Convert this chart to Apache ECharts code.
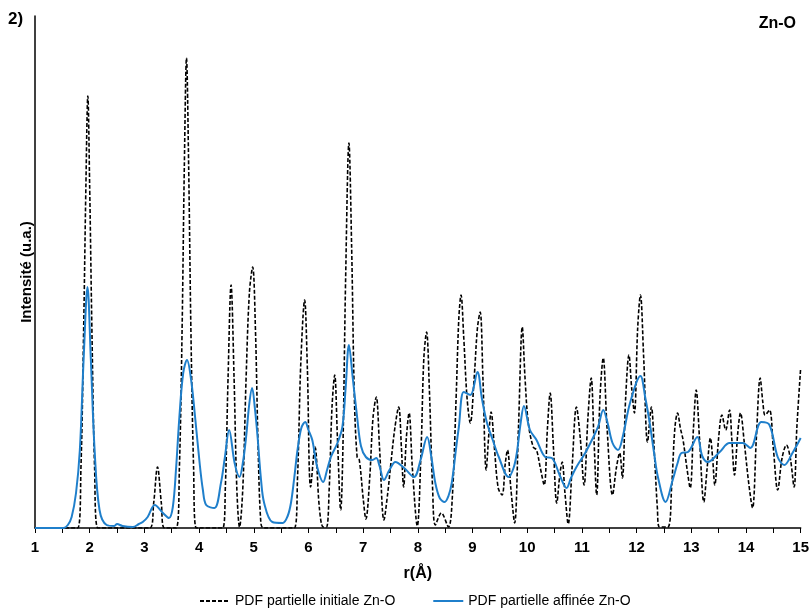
<!DOCTYPE html>
<html>
<head>
<meta charset="utf-8">
<script src="https://cdn.jsdelivr.net/npm/echarts@6/dist/echarts.min.js"></script>
<style>html,body{margin:0;padding:0;background:#fff}#c{width:812px;height:613px}</style>
</head>
<body>
<div id="c"></div>
<script>
const xTicks = [1,2,3,4,5,6,7,8,9,10,11,12,13,14,15];

const initialZnO = [
[1.0,0],[1.78,0],[1.84,60],[1.89,200],[1.93,340],[1.966,432],[2.00,340],[2.04,200],[2.09,60],[2.15,0],
[3.10,0],[3.17,25],[3.24,61],[3.31,25],[3.37,0],
[3.58,0],[3.64,60],[3.69,200],[3.73,360],[3.77,470],[3.81,360],[3.85,200],[3.90,60],[3.95,0],
[4.43,0],[4.48,40],[4.53,150],[4.585,243],[4.64,150],[4.69,40],[4.74,1],
[4.80,40],[4.86,150],[4.92,235],[4.98,261],[5.03,200],[5.08,80],[5.13,5],[5.18,0],
[5.74,0],[5.80,50],[5.86,165],[5.93,228],[5.98,160],[6.04,41],[6.12,81],[6.20,20],[6.27,1],[6.33,1],
[6.38,40],[6.43,120],[6.48,153],[6.53,90],[6.59,18],
[6.63,80],[6.68,250],[6.74,385],[6.79,280],[6.84,130],[6.89,71],[6.93,68],[7.00,30],[7.05,9],
[7.12,50],[7.18,110],[7.24,131],[7.30,80],[7.38,8],
[7.45,35],[7.50,61],[7.58,100],[7.65,121],[7.70,80],[7.74,41],[7.79,90],[7.84,115],[7.90,60],[7.99,2],
[8.06,80],[8.11,170],[8.16,196],[8.21,140],[8.27,40],[8.32,3],[8.43,15],[8.56,1],
[8.63,30],[8.70,130],[8.75,210],[8.79,233],[8.84,190],[8.90,130],[8.96,105],[9.03,150],[9.09,200],[9.14,216],[9.19,150],[9.25,58],
[9.30,95],[9.34,116],[9.40,80],[9.47,40],[9.54,33],[9.60,65],[9.64,78],[9.70,40],[9.77,5],
[9.84,100],[9.91,201],[9.96,150],[10.02,105],[10.11,81],[10.17,78],[10.24,60],[10.31,43],
[10.37,100],[10.42,135],[10.48,80],[10.54,25],[10.60,55],[10.64,66],[10.69,35],[10.75,4],
[10.82,60],[10.90,121],[10.97,90],[11.04,43],[11.11,110],[11.17,150],[11.22,90],[11.27,33],
[11.33,130],[11.39,170],[11.46,100],[11.56,33],[11.63,60],[11.69,75],[11.74,50],
[11.80,130],[11.86,173],[11.91,140],[11.96,115],[12.02,200],[12.07,233],[12.13,170],[12.20,86],[12.27,121],
[12.33,70],[12.38,20],[12.42,1],[12.57,1],[12.64,40],[12.70,100],[12.75,115],[12.80,100],[12.85,88],[12.92,60],[12.98,40],
[13.04,100],[13.09,138],[13.15,90],[13.23,26],[13.29,60],[13.35,90],[13.39,70],[13.43,43],
[13.50,90],[13.56,113],[13.63,98],[13.70,118],[13.74,90],[13.79,53],[13.85,95],[13.90,115],[13.97,85],[14.05,45],[14.12,20],
[14.19,90],[14.26,150],[14.31,125],[14.35,113],[14.43,118],[14.50,80],[14.58,38],[14.66,70],[14.74,83],[14.81,70],[14.88,41],[14.93,100],[15.0,160]
];

const refinedZnO = [
[1.0,0],[1.52,0],[1.60,3],[1.67,11],[1.75,35],[1.82,78],[1.89,170],[1.96,241],[2.02,170],[2.09,78],[2.18,18],[2.31,3],
[2.45,2],[2.50,4],[2.60,2],[2.79,1],[2.90,4],[2.97,6],[3.06,11],[3.19,23],[3.34,15],[3.45,10],[3.52,21],
[3.58,60],[3.64,111],[3.71,155],[3.78,168],[3.85,150],[3.92,115],[4.01,65],[4.07,38],[4.13,23],[4.28,20],
[4.40,45],[4.47,70],[4.55,98],[4.65,65],[4.74,51],[4.80,65],[4.86,91],[4.92,125],[4.97,140],[5.02,120],[5.07,91],
[5.13,50],[5.19,25],[5.34,6],[5.53,5],[5.62,12],[5.68,25],[5.74,50],[5.80,78],[5.87,100],[5.94,106],[6.00,98],
[6.07,88],[6.16,61],[6.27,46],[6.34,58],[6.41,71],[6.53,85],[6.62,101],[6.68,140],[6.74,183],[6.81,150],[6.89,111],
[6.96,82],[7.05,71],[7.17,68],[7.24,70],[7.30,62],[7.38,48],[7.48,58],[7.59,66],[7.75,60],[7.93,51],[8.05,68],
[8.17,91],[8.25,70],[8.32,45],[8.40,30],[8.49,26],[8.56,32],[8.62,45],[8.70,80],[8.75,101],[8.84,136],[8.96,133],
[9.09,156],[9.17,130],[9.26,106],[9.37,88],[9.48,71],[9.66,51],[9.75,60],[9.81,75],[9.88,105],[9.94,122],
[10.05,98],[10.17,88],[10.33,71],[10.45,70],[10.60,52],[10.72,40],[10.80,50],[10.90,61],[11.06,75],[11.21,91],
[11.30,102],[11.39,118],[11.47,105],[11.56,85],[11.66,78],[11.75,92],[11.88,125],[12.07,152],[12.16,130],
[12.24,105],[12.32,75],[12.39,51],[12.53,26],[12.66,48],[12.75,65],[12.82,75],[12.94,76],[13.11,91],[13.20,72],
[13.30,66],[13.52,76],[13.70,85],[13.94,85],[14.08,80],[14.28,106],[14.43,103],[14.58,71],[14.70,63],[14.85,75],[15.0,90]
];

const seriesNames = ['PDF partielle initiale Zn-O', 'PDF partielle affinée Zn-O'];

const chart = echarts.init(document.getElementById('c'));
const F = 'Liberation Sans, Arial, sans-serif';
chart.setOption({
  animation: false,
  backgroundColor: '#fff',
  title: [
    {text: '2)', left: 3, top: 6, textStyle: {fontFamily: F, fontSize: 17, fontWeight: 'bold', color: '#000'}},
    {text: 'Zn-O', right: 11, top: 11, textStyle: {fontFamily: F, fontSize: 16, fontWeight: 'bold', color: '#000'}}
  ],
  legend: {
    bottom: 0, left: 194, itemWidth: 30, itemHeight: 10, itemGap: 37,
    itemStyle: {opacity: 0},
    textStyle: {fontFamily: F, fontSize: 14, color: '#000'},
    data: seriesNames
  },
  grid: {left: 35, right: 9, top: 16, bottom: 85, containLabel: false},
  xAxis: {
    type: 'value', min: 1, max: 15, interval: 1,
    name: 'r(Å)', nameLocation: 'middle', nameGap: 38,
    nameTextStyle: {fontFamily: F, fontSize: 16, fontWeight: 'bold', color: '#000'},
    axisLine: {show: true, lineStyle: {color: '#000', width: 1.5}},
    axisTick: {show: true, length: 5, lineStyle: {color: '#000'}},
    minorTick: {show: true, splitNumber: 2, length: 5, lineStyle: {color: '#000'}},
    axisLabel: {fontFamily: F, fontSize: 15, fontWeight: 'bold', color: '#000', margin: 12,
      formatter: v => xTicks.includes(v) ? String(v) : ''},
    splitLine: {show: false}
  },
  yAxis: {
    type: 'value', min: 0, max: 512,
    name: 'Intensité (u.a.)', nameLocation: 'middle', nameGap: 1,
    nameTextStyle: {fontFamily: F, fontSize: 15, fontWeight: 'bold', color: '#000'},
    axisLine: {show: true, lineStyle: {color: '#000', width: 1.5}},
    axisTick: {show: false}, axisLabel: {show: false}, splitLine: {show: false}
  },
  series: [
    {name: seriesNames[0], type: 'line', data: initialZnO, symbol: 'none', smooth: 0.35,
     lineStyle: {color: '#000', width: 1.6, type: [4, 2]}, itemStyle: {color: '#000'}, z: 2},
    {name: seriesNames[1], type: 'line', data: refinedZnO, symbol: 'none', smooth: 0.35,
     lineStyle: {color: '#1f7fcb', width: 2}, itemStyle: {color: '#1f7fcb'}, z: 3}
  ]
});
</script>
</body>
</html>
